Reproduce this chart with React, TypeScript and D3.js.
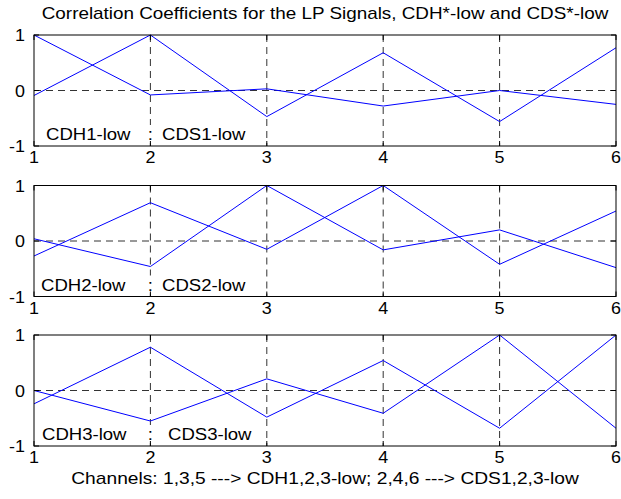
import React from "react";
import * as d3 from "d3";

const channels = [1, 2, 3, 4, 5, 6];
const cdhLow1 = [1.0, -0.08, 0.03, -0.28, 0.0, -0.25];
const cdsLow1 = [-0.09, 1.0, -0.47, 0.68, -0.56, 0.77];
const cdhLow2 = [0.04, -0.46, 1.0, -0.16, 0.2, -0.48];
const cdsLow2 = [-0.27, 0.69, -0.15, 1.0, -0.42, 0.54];
const cdhLow3 = [0.0, -0.55, 0.21, -0.41, 1.0, -0.68];
const cdsLow3 = [-0.24, 0.78, -0.48, 0.54, -0.68, 1.0];
const cdhLabels = ["CDH1-low", "CDH2-low", "CDH3-low"];
const cdsLabels = ["CDS1-low", "CDS2-low", "CDS3-low"];
const yTicks = [-1, 0, 1];
const xGrid = [2, 3, 4, 5];
const titleText = "Correlation Coefficients for the LP Signals, CDH*-low and CDS*-low";
const xLabelText = "Channels: 1,3,5 ---> CDH1,2,3-low; 2,4,6 ---> CDS1,2,3-low";

const panels = [
  [cdhLow1, cdsLow1],
  [cdhLow2, cdsLow2],
  [cdhLow3, cdsLow3],
];

const W = 621;
const H = 499;
const left = 34;
const right = 616;
const font = "Arial, 'Liberation Sans', sans-serif";
const fs = 16;

function SText({
  x,
  y,
  sx,
  anchor,
  children,
}: {
  x: number;
  y: number;
  sx: number;
  anchor?: string;
  children: React.ReactNode;
}) {
  return (
    <text
      transform={`translate(${x},${y}) scale(${sx},1)`}
      textAnchor={anchor || "start"}
      fontFamily={font}
      fontSize={fs}
      fill="#000"
    >
      {children}
    </text>
  );
}

export default function App() {
  const x = d3.scaleLinear().domain([1, 6]).range([left, right]);
  const panelTops = [35, 185.5, 335];
  const ph = 111;
  const cdhX = [46, 41, 42];
  const cdsX = [162, 162, 168];
  return (
    <svg width={W} height={H} style={{ position: "absolute", left: 0, top: 0, background: "#fff" }}>
      <rect x={0} y={0} width={W} height={H} fill="#fff" />
      <SText x={(left + right) / 2} y={19} sx={1.18} anchor="middle">
        {titleText}
      </SText>
      {panels.map((series, i) => {
        const top = panelTops[i];
        const y = d3.scaleLinear().domain([-1, 1]).range([top + ph, top]);
        const line = d3
          .line<number>()
          .x((_, j) => x(channels[j]))
          .y((d) => y(d));
        const labelY = top + ph - 6;
        return (
          <g key={i}>
            {xGrid.map((g) => (
              <line
                key={"gx" + g}
                x1={x(g)}
                x2={x(g)}
                y1={top}
                y2={top + ph}
                stroke="#333"
                strokeWidth={1}
                strokeDasharray="7,5"
              />
            ))}
            <line
              x1={left}
              x2={right}
              y1={y(0)}
              y2={y(0)}
              stroke="#333"
              strokeWidth={1}
              strokeDasharray="7,5"
            />
            <rect x={x(2) - 6} y={labelY - 15} width={12} height={17} fill="#fff" />
            {series.map((s, k) => (
              <path key={k} d={line(s) || ""} fill="none" stroke="#0000ff" strokeWidth={1} />
            ))}
            <rect x={left} y={top} width={right - left} height={ph} fill="none" stroke="#000" strokeWidth={1} />
            {channels.map((c) => (
              <g key={"t" + c}>
                <line x1={x(c)} x2={x(c)} y1={top + ph} y2={top + ph - 5} stroke="#000" />
                <line x1={x(c)} x2={x(c)} y1={top} y2={top + 5} stroke="#000" />
                <SText x={x(c)} y={top + ph + 17} sx={1.12} anchor="middle">
                  {c}
                </SText>
              </g>
            ))}
            {yTicks.map((t) => (
              <g key={"y" + t}>
                <line x1={left} x2={left + 5} y1={y(t)} y2={y(t)} stroke="#000" />
                <line x1={right} x2={right - 5} y1={y(t)} y2={y(t)} stroke="#000" />
                <SText x={left - 9} y={y(t) + 6} sx={1.12} anchor="end">
                  {t}
                </SText>
              </g>
            ))}
            <SText x={cdhX[i]} y={labelY} sx={1.16}>
              {cdhLabels[i]}
            </SText>
            <SText x={x(2)} y={labelY} sx={1.16} anchor="middle">
              :
            </SText>
            <SText x={cdsX[i]} y={labelY} sx={1.16}>
              {cdsLabels[i]}
            </SText>
          </g>
        );
      })}
      <SText x={(left + right) / 2} y={484} sx={1.2} anchor="middle">
        {xLabelText}
      </SText>
    </svg>
  );
}
